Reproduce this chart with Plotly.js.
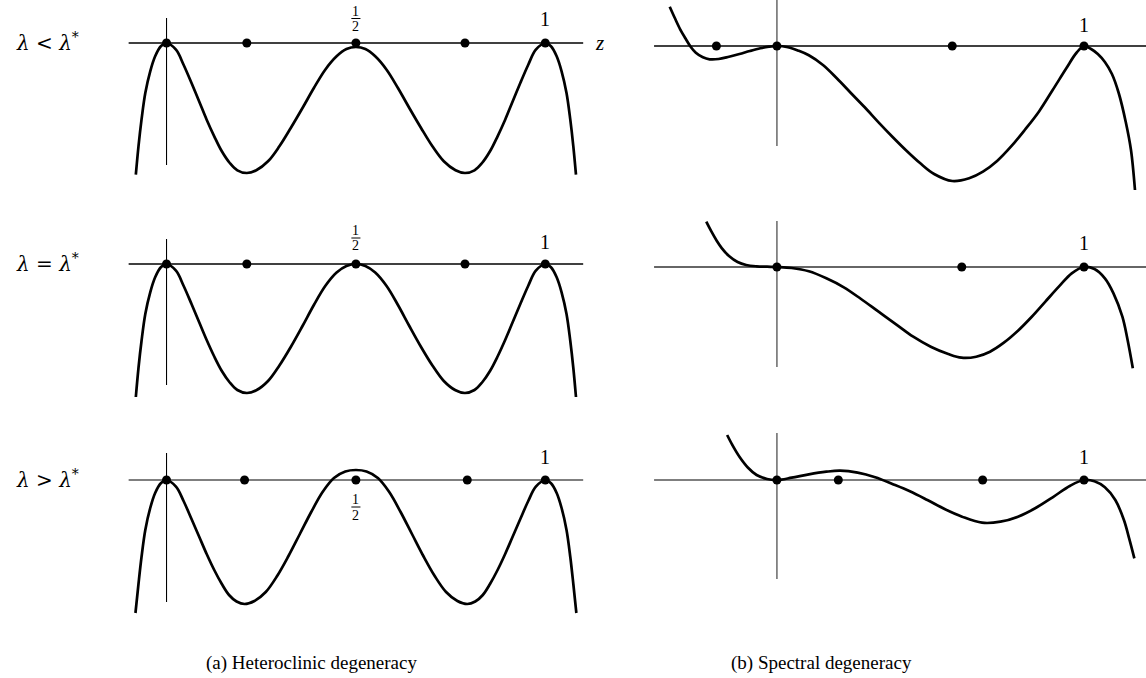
<!DOCTYPE html>
<html>
<head>
<meta charset="utf-8">
<script src="https://cdn.plot.ly/plotly-3.0.1.min.js"></script>
<style>html,body{margin:0;padding:0;background:#fff;}#chart{width:1146px;height:678px;}</style>
</head>
<body>
<div id="chart"></div>
<script>
// ---------- data (z along the axis, y = height of the curve) ----------
// (a) Heteroclinic degeneracy
const a1Z = [-0.081,-0.074,-0.066,-0.056,-0.043,-0.030,-0.015,0, 0.025,0.045,0.066,0.086,0.106,0.126,0.146,0.167,0.187,0.212, 0.237,0.268,0.298,0.328,0.359,0.389,0.419,0.449,0.475,0.5, 0.525,0.551,0.581,0.611,0.641,0.672,0.702,0.732,0.763,0.788, 0.813,0.833,0.854,0.874,0.894,0.914,0.934,0.955,0.975,1.0, 1.015,1.030,1.043,1.056,1.066,1.074,1.081];
const a1Y = [-1.317,-1.033,-0.767,-0.500,-0.283,-0.133,-0.033,0, -0.067,-0.217,-0.400,-0.583,-0.767,-0.933,-1.083,-1.200,-1.273,-1.300, -1.273,-1.183,-1.033,-0.850,-0.650,-0.450,-0.267,-0.133,-0.060,-0.040, -0.060,-0.133,-0.267,-0.450,-0.650,-0.850,-1.033,-1.183,-1.273,-1.300, -1.273,-1.200,-1.083,-0.933,-0.767,-0.583,-0.400,-0.217,-0.067,0, -0.033,-0.133,-0.283,-0.500,-0.767,-1.033,-1.317];
const a2Z = [-0.081,-0.074,-0.066,-0.056,-0.043,-0.030,-0.015,0, 0.025,0.045,0.066,0.086,0.106,0.126,0.146,0.167,0.187,0.212, 0.237,0.268,0.298,0.328,0.359,0.389,0.419,0.449,0.475,0.5, 0.525,0.551,0.581,0.611,0.641,0.672,0.702,0.732,0.763,0.788, 0.813,0.833,0.854,0.874,0.894,0.914,0.934,0.955,0.975,1.0, 1.015,1.030,1.043,1.056,1.066,1.074,1.081];
const a2Y = [-1.33,-1.04,-0.77,-0.50,-0.283,-0.133,-0.033,0, -0.067,-0.217,-0.400,-0.58,-0.76,-0.925,-1.07,-1.185,-1.26,-1.29, -1.263,-1.17,-1.015,-0.83,-0.62,-0.41,-0.22,-0.085,-0.02,0, -0.02,-0.085,-0.22,-0.41,-0.62,-0.83,-1.015,-1.17,-1.263,-1.29, -1.26,-1.185,-1.07,-0.925,-0.76,-0.58,-0.400,-0.217,-0.067,0, -0.033,-0.133,-0.283,-0.50,-0.77,-1.04,-1.33];
const a3Z = [-0.082,-0.074,-0.066,-0.056,-0.043,-0.030,-0.015,0, 0.025,0.045,0.066,0.086,0.106,0.126,0.146,0.165,0.185,0.206, 0.232,0.262,0.292,0.322,0.352,0.382,0.412,0.442,0.472,0.5, 0.528,0.558,0.588,0.618,0.648,0.678,0.708,0.738,0.768,0.794, 0.815,0.835,0.854,0.874,0.894,0.914,0.934,0.955,0.975,1.0, 1.015,1.030,1.043,1.056,1.066,1.074,1.082];
const a3Y = [-1.33,-1.04,-0.77,-0.50,-0.28,-0.13,-0.033,0, -0.067,-0.21,-0.39,-0.565,-0.74,-0.90,-1.04,-1.15,-1.215,-1.24, -1.21,-1.12,-0.96,-0.76,-0.54,-0.32,-0.12,0.02,0.085,0.10, 0.085,0.02,-0.12,-0.32,-0.54,-0.76,-0.96,-1.12,-1.21,-1.24, -1.215,-1.15,-1.04,-0.90,-0.74,-0.565,-0.39,-0.21,-0.067,0, -0.033,-0.13,-0.28,-0.50,-0.77,-1.04,-1.33];
const aDotsZ = [0, 0.212, 0.5, 0.788, 1];
const a3DotsZ = [0, 0.206, 0.5, 0.794, 1];

// (b) Spectral degeneracy
const b1Z = [-0.349,-0.332,-0.315,-0.298,-0.281,-0.264,-0.241,-0.219,-0.190,-0.156,-0.122,-0.088,-0.054,-0.026,0, 0.036,0.070,0.104,0.150,0.195,0.240,0.286,0.331,0.376,0.422,0.467,0.512,0.571, 0.626,0.671,0.717,0.762,0.807,0.853,0.898,0.943,0.975,1.0, 1.023,1.045,1.068,1.091,1.113,1.136,1.153,1.166];
const b1Y = [0.393,0.277,0.167,0.077,-0.007,-0.067,-0.113,-0.133,-0.13,-0.107,-0.08,-0.05,-0.023,-0.007,0, -0.013,-0.047,-0.093,-0.19,-0.323,-0.467,-0.613,-0.763,-0.907,-1.047,-1.173,-1.28,-1.35, -1.323,-1.257,-1.15,-1.007,-0.84,-0.657,-0.44,-0.22,-0.07,0, -0.03,-0.08,-0.16,-0.28,-0.47,-0.76,-1.04,-1.44];
const b1DotsZ = [-0.197, 0, 0.571, 1];

const b2Z = [-0.230,-0.213,-0.196,-0.179,-0.156,-0.128,-0.100,-0.066,-0.032,0, 0.048,0.104,0.161,0.218,0.274,0.331,0.388,0.444,0.501,0.558,0.601, 0.649,0.694,0.739,0.785,0.830,0.875,0.921,0.960,1.0, 1.034,1.068,1.096,1.125,1.142,1.159];
const b2Y = [0.453,0.353,0.263,0.187,0.11,0.05,0.02,0.007,0.003,0, -0.01,-0.043,-0.113,-0.203,-0.32,-0.447,-0.573,-0.697,-0.797,-0.87,-0.907, -0.897,-0.847,-0.757,-0.637,-0.497,-0.343,-0.187,-0.063,0, -0.02,-0.113,-0.263,-0.497,-0.73,-1.013];
const b2DotsZ = [0, 0.602, 1];

const b3Z = [-0.162,-0.145,-0.122,-0.094,-0.066,-0.032,0, 0.048,0.104,0.161,0.206,0.263,0.320,0.376,0.433,0.490,0.546,0.603,0.668, 0.728,0.785,0.841,0.898,0.955,1.0, 1.034,1.068,1.102,1.130,1.147,1.164];
const b3Y = [0.45,0.35,0.233,0.123,0.05,0.01,0, 0.023,0.057,0.083,0.093,0.073,0.027,-0.04,-0.113,-0.2,-0.29,-0.367,-0.427, -0.417,-0.367,-0.283,-0.173,-0.057,0, -0.013,-0.073,-0.2,-0.4,-0.583,-0.783];
const b3DotsZ = [0, 0.200, 0.670, 1];

// axis extents
const aHAxisZ = [-0.10, 1.10];
const bHAxisZ = [-0.40, 1.25];
const aVAxisY = [[0.25,-1.22],[0.25,-1.21],[0.27,-1.22]];
const bVAxisY = [[0.46,-1.00],[0.46,-1.00],[0.47,-0.99]];

const rowLabels = ['<i>λ</i> < <i>λ</i><sup>*</sup>', '<i>λ</i> = <i>λ</i><sup>*</sup>', '<i>λ</i> > <i>λ</i><sup>*</sup>'];
const captions = ['(a) Heteroclinic degeneracy', '(b) Spectral degeneracy'];

// ---------- build ----------
const serif = 'Liberation Serif, DejaVu Serif, serif';
const traces = [];
function axes(i){ return {xaxis: i===1?'x':'x'+i, yaxis: i===1?'y':'y'+i}; }
function addPanel(i, curveZ, curveY, dotsZ, hZ, vY, hColor, vColor, vWidth){
  const ax = axes(i);
  traces.push(Object.assign({x:hZ, y:[0,0], mode:'lines', line:{color:hColor, width:1.3}, hoverinfo:'skip'}, ax));
  traces.push(Object.assign({x:[0,0], y:vY, mode:'lines', line:{color:vColor, width:vWidth}, hoverinfo:'skip'}, ax));
  traces.push(Object.assign({x:curveZ, y:curveY, mode:'lines', line:{color:'#000', width:2.7, shape:'spline', smoothing:1}, hoverinfo:'skip'}, ax));
  traces.push(Object.assign({x:dotsZ, y:dotsZ.map(()=>0), mode:'markers', marker:{color:'#000', size:9}, hoverinfo:'skip'}, ax));
}
addPanel(1, a1Z, a1Y, aDotsZ, aHAxisZ, aVAxisY[0], '#000', '#000', 1.1);
addPanel(2, b1Z, b1Y, b1DotsZ, bHAxisZ, bVAxisY[0], '#000', '#808080', 1.8);
addPanel(3, a2Z, a2Y, aDotsZ, aHAxisZ, aVAxisY[1], '#000', '#000', 1.1);
addPanel(4, b2Z, b2Y, b2DotsZ, bHAxisZ, bVAxisY[1], '#333', '#808080', 1.8);
addPanel(5, a3Z, a3Y, a3DotsZ, aHAxisZ, aVAxisY[2], '#555', '#000', 1.1);
addPanel(6, b3Z, b3Y, b3DotsZ, bHAxisZ, bVAxisY[2], '#555', '#808080', 1.8);

const W = 1146, H = 678;
const leftDom = [100/W, 590/W], rightDom = [640/W, 1146/W];
const leftRange = [-0.1756, 1.1180], rightRange = [-0.4458, 1.2019];
const rowDom = [[1-200/H, 1], [1-415/H, 1-205/H], [1-625/H, 1-425/H]];
const yRanges = [[-1.57,0.43],[-1.54,0.46],[-1.51,0.59],[-1.48,0.62],[-1.45,0.55],[-1.45,0.55]];

const layout = {
  width: W, height: H, margin:{l:0,r:0,t:0,b:0}, paper_bgcolor:'#fff', plot_bgcolor:'rgba(0,0,0,0)',
  showlegend:false, font:{family:serif, color:'#000'}, annotations:[], shapes:[]
};
const hidden = {visible:true, showgrid:false, zeroline:false, showticklabels:false, ticks:'', showline:false, fixedrange:true};
for (let i=1;i<=6;i++){
  const col = (i%2===1)?0:1, row = Math.floor((i-1)/2);
  const xn = i===1?'xaxis':'xaxis'+i, yn = i===1?'yaxis':'yaxis'+i;
  layout[xn] = Object.assign({}, hidden, {domain: col===0?leftDom:rightDom, range: col===0?leftRange:rightRange, anchor: i===1?'y':'y'+i});
  layout[yn] = Object.assign({}, hidden, {domain: rowDom[row], range: yRanges[i-1], anchor: i===1?'x':'x'+i});
}
function ann(o){ layout.annotations.push(Object.assign({showarrow:false, xanchor:'center', yanchor:'middle', font:{family:serif, size:20, color:'#000'}}, o)); }
// row labels
['y','y3','y5'].forEach((yr,k)=> ann({xref:'paper', yref:yr, x:47/W, y:0.01, text:rowLabels[k], font:{family:'DejaVu Serif, serif', size:20, color:'#000'}}));
// z label
ann({xref:'paper', yref:'y', x:599/W, y:0, text:'<i>z</i>', font:{family:serif, size:21, color:'#000'}});
// "1" labels
[['x','y',0.24],['x3','y3',0.22],['x5','y5',0.23],['x2','y2',0.21],['x4','y4',0.24],['x6','y6',0.23]].forEach(a=> ann({xref:a[0], yref:a[1], x:1, y:a[2], text:'1'}));
// fractions 1/2
function frac(xr, yr, yTop, yBar, yBot){
  ann({xref:xr, yref:yr, x:0.5, y:yTop, text:'1', font:{family:serif, size:14, color:'#000'}});
  ann({xref:xr, yref:yr, x:0.5, y:yBot, text:'2', font:{family:serif, size:14, color:'#000'}});
  layout.shapes.push({type:'line', xref:xr, yref:yr, x0:0.488, x1:0.512, y0:yBar, y1:yBar, line:{color:'#000', width:1}});
}
frac('x','y', 0.32, 0.245, 0.17);
frac('x3','y3', 0.335, 0.26, 0.185);
frac('x5','y5', -0.19, -0.27, -0.35);
// captions
ann({xref:'paper', yref:'paper', x:311/W, y:1-663/H, text:captions[0], font:{family:serif, size:19, color:'#000'}});
ann({xref:'paper', yref:'paper', x:821/W, y:1-663/H, text:captions[1], font:{family:serif, size:19, color:'#000'}});

Plotly.newPlot('chart', traces, layout, {staticPlot:true, displayModeBar:false});
</script>
</body>
</html>
